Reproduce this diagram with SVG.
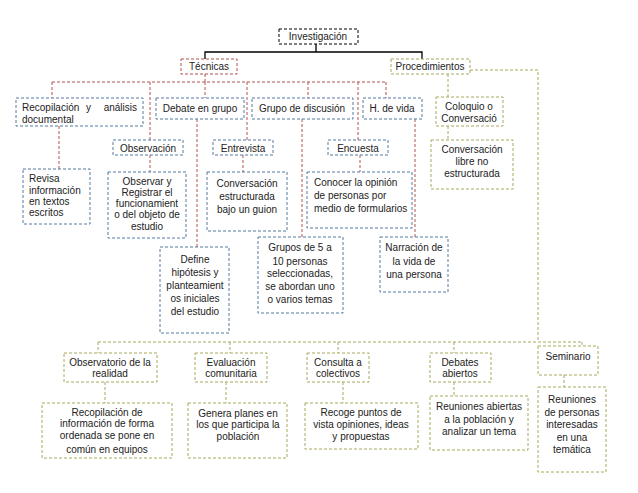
<svg xmlns="http://www.w3.org/2000/svg" width="638" height="493" viewBox="0 0 638 493">
<style>
text{font-family:"Liberation Sans",Arial,sans-serif;font-size:10px;fill:#222}
.c{text-anchor:middle}
.e{text-anchor:end}
.bb{fill:#fff;stroke:#000;stroke-width:1;stroke-dasharray:3 2}
.rb{fill:#fff;stroke:#b5524f;stroke-width:1;stroke-dasharray:3 2}
.ob{fill:#fff;stroke:#a8a85e;stroke-width:1;stroke-dasharray:3 2}
.ub{fill:#fff;stroke:#55789e;stroke-width:1;stroke-dasharray:3 2}
.k{fill:none;stroke:#000;stroke-width:1.3}
.r{fill:none;stroke:#b5524f;stroke-width:1;stroke-dasharray:3 2}
.o{fill:none;stroke:#a8a85e;stroke-width:1;stroke-dasharray:3 2}
</style>
<rect width="638" height="493" fill="#fff"/>
<g id="connectors">
<path class="k" d="M316 44V52M205 59V52H422V59"/>
<path class="r" d="M205 74V82M52 82H387M52 82V98M150 82V140M205 82V98M247 82V140M308 82V98M358 82V140M386 82V98"/>
<path class="r" d="M59 126V169M150 155V172M197 119V247M243 155V172M302 119V237M360 155V172M415 119V237"/>
<path class="o" d="M448 74V97M448 126V140M470 70H538V342M98 342H582M98 342V353M230 342V353M338 342V353M454 342V353M582 342V346"/>
<path class="o" d="M105 382V403M226 382V403M343 382V403M454 382V396M564 375V387"/>
</g>
<g id="investigacion"><rect class="bb" x="279" y="29" width="79" height="15"/><text class="c" x="318" y="40">Investigación</text></g>
<g id="tecnicas"><rect class="rb" x="181" y="59" width="56" height="15"/><text class="c" x="209" y="70">Técnicas</text></g>
<g id="procedimientos"><rect class="ob" x="391" y="59" width="79" height="15"/><text class="c" x="430" y="70">Procedimientos</text></g>
<g id="recopilacion"><rect class="ub" x="16" y="98" width="127" height="28"/><text x="22" y="111">Recopilación</text><text x="86" y="111">y</text><text class="e" x="137" y="111">análisis</text><text x="22" y="123">documental</text></g>
<g id="debate"><rect class="ub" x="156" y="98" width="88" height="21"/><text class="c" x="200" y="112">Debate en grupo</text></g>
<g id="grupo"><rect class="ub" x="252" y="98" width="101" height="21"/><text class="c" x="302" y="112">Grupo de discusión</text></g>
<g id="hvida"><rect class="ub" x="363" y="98" width="59" height="21"/><text class="c" x="392" y="112">H. de vida</text></g>
<g id="coloquio"><rect class="ob" x="436" y="97" width="67" height="29"/><text class="c" x="469" y="110">Coloquio o</text><text class="c" x="469" y="122">Conversació</text></g>
<g id="revisa"><rect class="ub" x="23" y="169" width="67" height="55"/><text x="29" y="182">Revisa</text><text x="29" y="194">información</text><text x="29" y="205">en textos</text><text x="29" y="216">escritos</text></g>
<g id="observacion"><rect class="ub" x="113" y="140" width="70" height="15"/><text class="c" x="148" y="152">Observación</text></g>
<g id="observar"><rect class="ub" x="108" y="172" width="78" height="66"/><text class="c" x="147" y="185">Observar y</text><text class="c" x="147" y="196">Registrar  el</text><text class="c" x="147" y="207">funcionamient</text><text class="c" x="147" y="218">o del objeto de</text><text class="c" x="147" y="230">estudio</text></g>
<g id="entrevista"><rect class="ub" x="213" y="140" width="60" height="15"/><text class="c" x="243" y="152">Entrevista</text></g>
<g id="conversacion-estructurada"><rect class="ub" x="207" y="172" width="80" height="59"/><text class="c" x="247" y="187">Conversación</text><text class="c" x="247" y="200">estructurada</text><text class="c" x="247" y="213">bajo un guion</text></g>
<g id="encuesta"><rect class="ub" x="328" y="140" width="60" height="15"/><text class="c" x="358" y="152">Encuesta</text></g>
<g id="conocer"><rect class="ub" x="307" y="172" width="105" height="56"/><text x="314" y="186">Conocer la opinión</text><text x="314" y="199">de personas por</text><text x="314" y="212">medio de formularios</text></g>
<g id="conversacion-libre"><rect class="ob" x="431" y="140" width="82" height="49"/><text class="c" x="472" y="153">Conversación</text><text class="c" x="472" y="165">libre no</text><text class="c" x="472" y="177">estructurada</text></g>
<g id="define"><rect class="ub" x="160" y="247" width="69" height="86"/><text class="c" x="195" y="263">Define</text><text class="c" x="195" y="276">hipótesis y</text><text class="c" x="195" y="289">planteamient</text><text class="c" x="195" y="302">os iniciales</text><text class="c" x="195" y="315">del estudio</text></g>
<g id="grupos"><rect class="ub" x="258" y="237" width="85" height="76"/><text class="c" x="300" y="251">Grupos de 5  a</text><text class="c" x="300" y="265">10 personas</text><text class="c" x="300" y="277">seleccionadas,</text><text class="c" x="300" y="290">se abordan uno</text><text class="c" x="300" y="303">o varios temas</text></g>
<g id="narracion"><rect class="ub" x="380" y="237" width="68" height="55"/><text class="c" x="414" y="251">Narración de</text><text class="c" x="414" y="265">la vida de</text><text class="c" x="414" y="278">una persona</text></g>
<g id="observatorio"><rect class="ob" x="64" y="353" width="93" height="29"/><text class="c" x="110" y="366">Observatorio de la</text><text class="c" x="110" y="377">realidad</text></g>
<g id="evaluacion"><rect class="ob" x="195" y="353" width="72" height="29"/><text class="c" x="231" y="366">Evaluación</text><text class="c" x="231" y="377">comunitaria</text></g>
<g id="consulta"><rect class="ob" x="307" y="353" width="62" height="29"/><text class="c" x="338" y="366">Consulta a</text><text class="c" x="338" y="377">colectivos</text></g>
<g id="debates"><rect class="ob" x="430" y="353" width="61" height="29"/><text class="c" x="460" y="366">Debates</text><text class="c" x="460" y="377">abiertos</text></g>
<g id="seminario"><rect class="ob" x="538" y="346" width="60" height="29"/><text class="c" x="568" y="360">Seminario</text></g>
<g id="recopilacion-info"><rect class="ob" x="42" y="403" width="130" height="55"/><text class="c" x="107" y="416">Recopilación de</text><text class="c" x="107" y="427">información de forma</text><text class="c" x="107" y="439">ordenada se pone en</text><text class="c" x="107" y="453">común en equipos</text></g>
<g id="genera"><rect class="ob" x="188" y="403" width="99" height="55"/><text class="c" x="238" y="417">Genera planes en</text><text class="c" x="238" y="428">los que participa la</text><text class="c" x="238" y="440">población</text></g>
<g id="recoge"><rect class="ob" x="305" y="403" width="113" height="46"/><text class="c" x="361" y="416">Recoge puntos de</text><text class="c" x="361" y="428">vista  opiniones, ideas</text><text class="c" x="361" y="440">y propuestas</text></g>
<g id="reuniones-abiertas"><rect class="ob" x="430" y="396" width="98" height="54"/><text class="c" x="479" y="410">Reuniones abiertas</text><text class="c" x="479" y="423">a la población y</text><text class="c" x="479" y="435">analizar un tema</text></g>
<g id="reuniones-personas"><rect class="ob" x="538" y="387" width="68" height="85"/><text class="c" x="572" y="403">Reuniones</text><text class="c" x="572" y="416">de personas</text><text class="c" x="572" y="428">interesadas</text><text class="c" x="572" y="441">en una</text><text class="c" x="572" y="453">temática</text></g>
</svg>
